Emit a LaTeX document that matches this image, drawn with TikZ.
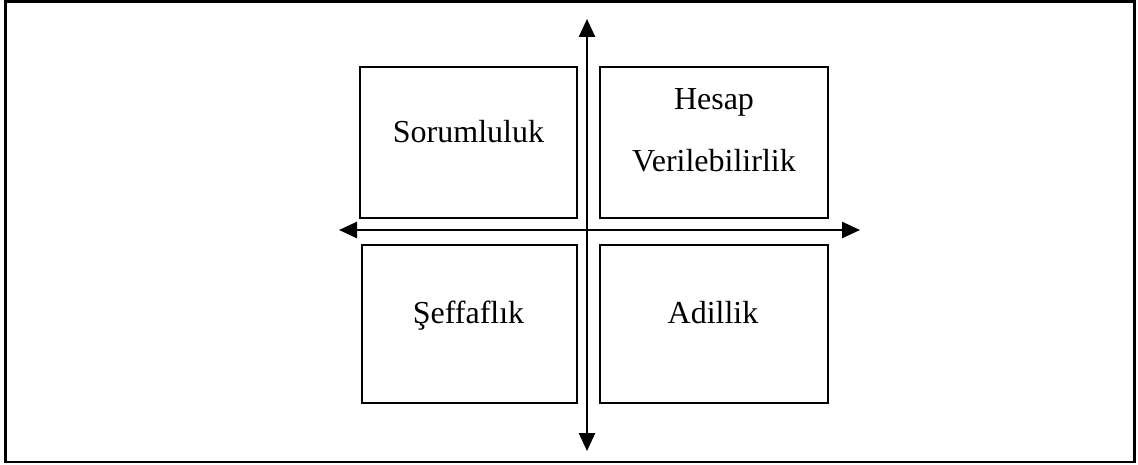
\documentclass[tikz,border=0pt]{standalone}
\usepackage{fontspec}
\setmainfont{Liberation Serif}
\usetikzlibrary{arrows.meta}
\begin{document}
\begin{tikzpicture}[x=1pt,y=-1pt,
  quad/.style={draw=black,line width=1.8pt,rectangle,inner sep=0pt},
  lbl/.style={anchor=base,inner sep=0pt,font=\fontsize{32}{38}\selectfont},
  axis/.style={line width=2.6pt,{Triangle[length=18pt,width=16pt]}-{Triangle[length=18pt,width=16pt]}}]
\useasboundingbox (0,0) rectangle (1138,465);
\draw[line width=2.2pt] (5.5,1.5) rectangle (1134.5,462);
% boxes
\node[quad,minimum width=217pt,minimum height=151pt] (tl) at (468.5,142.5) {};
\node[quad,minimum width=228pt,minimum height=151pt] (tr) at (714,142.5) {};
\node[quad,minimum width=215pt,minimum height=158pt] (bl) at (469.5,324) {};
\node[quad,minimum width=228pt,minimum height=158pt] (br) at (714,324) {};
% labels
\node[lbl] (t1) at (468.5,143) {Sorumluluk};
\node[lbl] (t2) at (714,110) {Hesap};
\node[lbl] (t3) at (714,172) {Verilebilirlik};
\node[lbl] (t4) at (468.5,323) {Şeffaflık};
\node[lbl] (t5) at (713,323) {Adillik};
% axes
\coordinate (L) at (339,230);
\coordinate (R) at (860,230);
\coordinate (T) at (587,19);
\coordinate (B) at (587,451);
\draw[axis] (L) -- (R);
\draw[axis] (T) -- (B);
\end{tikzpicture}
\end{document}
